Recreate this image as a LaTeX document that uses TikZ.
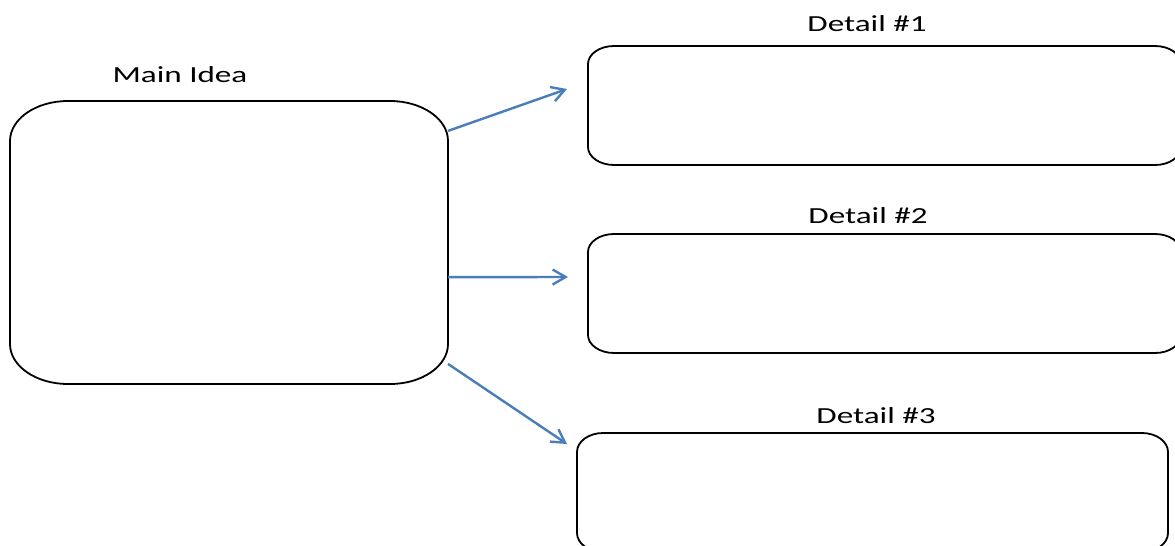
\documentclass[tikz,border=0pt]{standalone}
\usepackage{fontspec}
\setmainfont{Carlito}
\usetikzlibrary{arrows.meta}
\definecolor{arrowblue}{HTML}{4A7EBB}
\tikzset{
  boxline/.style={draw=black, line width=1.8pt},
  area/.style={rectangle, inner sep=0pt, outer sep=0pt},
  conn/.style={draw=arrowblue, line width=2.4pt, -{Straight Barb[length=13pt,width=15pt]}},
  lbl/.style={font=\fontsize{23}{27}\selectfont, anchor=base, inner sep=0pt}
}
\newcommand\widetext[1]{\scalebox{1.44}[1]{#1}}
\newcommand\eboxdraw[3]{%
  \draw[boxline] ([xshift=#2]#1.north west) -- ([xshift=-#2]#1.north east)
    arc[start angle=90,end angle=0,x radius=#2,y radius=#3]
    -- ([yshift=#3]#1.south east)
    arc[start angle=0,end angle=-90,x radius=#2,y radius=#3]
    -- ([xshift=#2]#1.south west)
    arc[start angle=270,end angle=180,x radius=#2,y radius=#3]
    -- ([yshift=-#3]#1.north west)
    arc[start angle=180,end angle=90,x radius=#2,y radius=#3] -- cycle;}
\begin{document}
\begin{tikzpicture}[x=1pt,y=-1pt]
\useasboundingbox (0,0) rectangle (1175,546);
\clip (0,0) rectangle (1175,546);
\fill[white] (0,0) rectangle (1175,546);
% boxes
\node[area, minimum width=438pt, minimum height=283pt] (main) at (229,242.5) {};
\node[area, minimum width=593pt, minimum height=119pt] (d1) at (884.5,105.5) {};
\node[area, minimum width=593pt, minimum height=119pt] (d2) at (884.5,293.5) {};
\node[area, minimum width=591pt, minimum height=119pt] (d3) at (872.5,492.5) {};
\eboxdraw{main}{58pt}{40pt}
\eboxdraw{d1}{26pt}{18pt}
\eboxdraw{d2}{26pt}{18pt}
\eboxdraw{d3}{26pt}{19pt}
% labels
\node[lbl] (tmain) at (180,82) {\widetext{Main Idea}};
\node[lbl] (t1) at (867,31) {\widetext{Detail \#1}};
\node[lbl] (t2) at (868,223) {\widetext{Detail \#2}};
\node[lbl] (t3) at (876,423) {\widetext{Detail \#3}};
% arrow ends
\coordinate (e1) at (567,89);
\coordinate (e2) at (568,277);
\coordinate (e3) at (567,444);
\draw[conn] (main.27) -- (e1);
\draw[conn] (main.-9.2) -- (e2);
\draw[conn] (main.-29.8) -- (e3);
\end{tikzpicture}
\end{document}
